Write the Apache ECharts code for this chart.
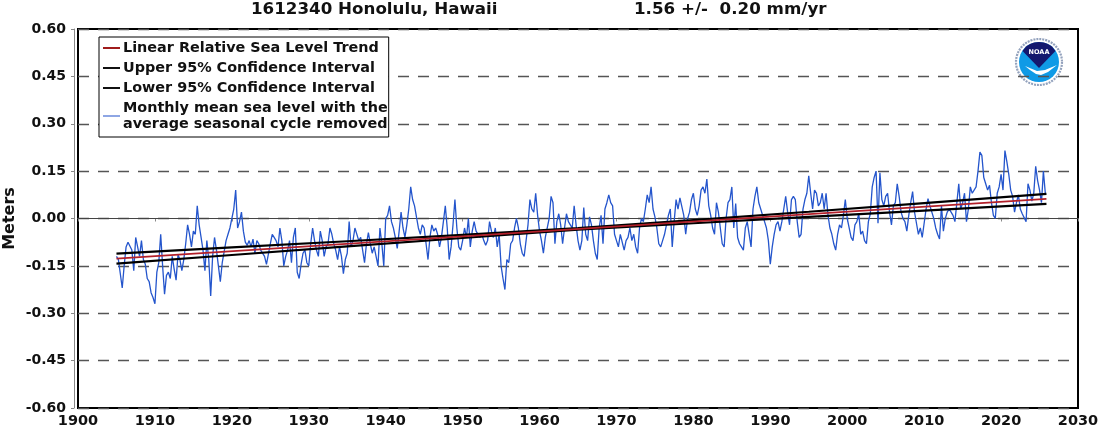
<!DOCTYPE html>
<html><head><meta charset="utf-8">
<style>html,body{margin:0;padding:0;background:#fff}#c{width:1100px;height:434px}</style>
<script src="https://cdn.jsdelivr.net/npm/echarts@6/dist/echarts.min.js"></script>
</head><body><div id="c"></div>
<script>
const titleStation = "1612340 Honolulu, Hawaii";
const titleRate = "1.56 +/-  0.20 mm/yr";
const yAxisName = "Meters";
const legendNames = ["Linear Relative Sea Level Trend","Upper 95% Confidence Interval","Lower 95% Confidence Interval","Monthly mean sea level with the\naverage seasonal cycle removed"];
const firstYear = 1905;
const samplesPerYear = 4;
// quarter-yearly readings, one array per ten years
const level1905 = [-.12,-.13,-.175,-.22,-.15,-.09,-.075,-.07,-.10,-.165,-.06,-.09,-.12,-.07,-.13,-.145,-.19,-.20,-.235,-.25,-.27,-.17,-.14,-.05,-.15,-.24,-.18,-.17,-.19,-.12,-.16,-.195,-.115,-.13,-.165,-.13,-.08,-.02,-.05,-.09];
const level1915 = [-.04,-.05,.04,-.02,-.06,-.10,-.165,-.07,-.13,-.245,-.12,-.06,-.10,-.15,-.20,-.14,-.135,-.07,-.05,-.03,0,.03,.09,-.03,-.01,.02,-.04,-.075,-.085,-.07,-.09,-.065,-.11,-.07,-.08,-.10,-.105,-.12,-.145,-.15];
const level1925 = [-.08,-.05,-.06,-.07,-.09,-.03,-.07,-.15,-.12,-.10,-.07,-.14,-.06,-.03,-.17,-.19,-.145,-.11,-.10,-.14,-.15,-.08,-.03,-.07,-.10,-.12,-.04,-.07,-.12,-.09,-.08,-.03,-.05,-.08,-.10,-.13,-.09,-.12,-.175,-.13];
const level1935 = [-.11,-.01,-.09,-.07,-.03,-.03,-.07,-.06,-.10,-.14,-.08,-.045,-.08,-.11,-.09,-.12,-.15,-.03,-.08,-.15,0,.01,.04,-.01,-.03,-.06,-.095,-.04,.02,-.03,-.06,-.02,.03,.10,.06,.04,.04,-.03,-.05,-.02];
const level1945 = [-.03,-.08,-.13,-.06,-.02,-.04,-.03,-.05,-.09,-.06,-.01,.04,-.03,-.13,-.09,-.02,.06,-.03,-.09,-.10,-.07,-.03,-.06,0,-.09,-.04,-.01,-.04,-.04,-.06,-.05,-.07,-.085,-.07,-.01,-.04,-.06,-.03,-.09,-.05];
const level1955 = [-.15,-.19,-.225,-.13,-.14,-.08,-.07,-.03,0,-.03,-.08,-.11,-.12,-.07,-.02,.06,.03,.02,.08,.01,-.04,-.07,-.11,-.06,-.03,0,.07,.05,-.08,-.01,.015,-.02,-.08,-.03,.015,-.01,-.02,-.03,.04,-.02];
const level1965 = [-.07,-.10,-.07,.035,-.05,-.07,.005,-.02,-.07,-.11,-.13,-.03,.01,-.08,.03,.05,.075,.05,.04,-.05,-.07,-.09,-.05,-.05,-.10,-.07,-.06,-.03,-.07,-.05,-.09,-.11,-.03,0,-.01,.03,.075,.05,.10,.03];
const level1975 = [.005,-.03,-.08,-.09,-.07,-.05,-.05,.01,.03,-.09,-.01,.06,.03,.065,.07,.01,-.05,0,.02,.06,.08,.03,.01,.04,.09,.10,.08,.125,.04,.01,-.03,-.05,.05,.02,-.03,-.08,-.09,0,.05,.06];
const level1985 = [.10,-.03,.047,-.06,-.08,-.09,-.10,-.03,-.01,-.05,-.09,.03,.07,.10,.05,.03,.03,-.01,-.03,-.07,-.145,-.09,-.05,-.02,-.01,-.04,-.01,.03,.07,.02,-.02,.06,.07,.06,-.01,-.06,-.05,.03,.06,.08];
const level1995 = [.135,.08,.03,.09,.08,.04,.05,.08,.03,.08,.01,-.03,-.05,-.08,-.10,-.05,-.02,-.03,.01,.06,0,-.03,-.06,-.07,-.02,-.01,.015,-.05,-.04,-.07,-.08,-.01,.015,.10,.13,.15,-.015,.145,.06,.04];
const level2005 = [.07,.08,.02,-.02,.04,.05,.11,.07,.02,0,-.01,-.04,.01,.05,.085,.02,-.015,-.05,-.03,-.06,-.065,.03,.063,.04,.02,0,-.03,-.05,-.065,.04,-.04,0,.02,.03,.02,.01,-.01,-.015,.11,.03];
const level2015 = [.05,.08,-.01,.03,.10,.08,.075,.10,.15,.21,.20,.13,.11,.09,.105,.05,.01,0,.08,.10,.14,.09,.215,.18,.14,.09,.07,.02,.05,.075,.03,.015,.02,-.01,.11,.09,.055,.08,.165,.12,.09,.05,.15,.08];
const levelReadings = [].concat(level1905,level1915,level1925,level1935,level1945,level1955,level1965,level1975,level1985,level1995,level2005,level2015);
const trendYears = [1905,2025.9];
const trendValues = [-.127,.062];
const ciYears = [1905,1920,1935,1950,1965,1980,1995,2010,2025.9];
const upperCI = [-.111,-.0916,-.072,-.0518,-.0305,-.005,.0214,.0488,.078];
const lowerCI = [-.143,-.1156,-.088,-.0618,-.0355,-.015,.0054,.0248,.046];
const zip = (a,b)=>a.map((v,i)=>[v,b[i]]);
const levelPoints = levelReadings.map((v,i)=>[firstYear+i/samplesPerYear,v]);
const F='"DejaVu Sans"';
const chart = echarts.init(document.getElementById('c'),null,{renderer:'canvas'});
chart.setOption({
 animation:false,backgroundColor:'#fff',
 title:[
  {text:titleStation,left:246,top:-4,textStyle:{fontFamily:F,fontWeight:'bold',fontSize:16.7,color:'#111'}},
  {text:titleRate,left:629,top:-4,textStyle:{fontFamily:F,fontWeight:'bold',fontSize:16.7,color:'#111'}}
 ],
 grid:{left:78,right:22,top:29,bottom:26,show:true,borderColor:'#000',borderWidth:2,backgroundColor:'#fff',outerBoundsMode:'none'},
 xAxis:{type:'value',min:1900,max:2030,interval:10,offset:3,
  axisLine:{show:true,lineStyle:{color:'#888',width:1}},axisTick:{show:true,length:3,lineStyle:{color:'#888'}},
  splitLine:{show:false},
  axisLabel:{fontFamily:F,fontWeight:'bold',fontSize:14.5,color:'#111',margin:3,formatter:v=>String(v),hideOverlap:false,showMinLabel:true,showMaxLabel:true}},
 yAxis:{type:'value',min:-.6,max:.6,interval:.15,offset:4,name:yAxisName,nameLocation:'middle',nameGap:56,nameMoveOverlap:false,
  nameTextStyle:{fontFamily:F,fontWeight:'bold',fontSize:16,color:'#111'},
  axisLine:{show:true,lineStyle:{color:'#888',width:1}},axisTick:{show:true,length:3,lineStyle:{color:'#888'}},
  axisLabel:{fontFamily:F,fontWeight:'bold',fontSize:14,color:'#111',margin:8,formatter:v=>v.toFixed(2)},
  splitLine:{show:true,lineStyle:{type:[11,9],color:'#555',width:1.4}}},
 legend:{left:99,top:37,orient:'vertical',padding:[3,1,5,4],itemGap:4,itemWidth:17,itemHeight:2,icon:'rect',
  borderColor:'#000',borderWidth:1,backgroundColor:'#fff',z:8,
  textStyle:{fontFamily:F,fontWeight:'bold',fontSize:14.4,color:'#111',lineHeight:16,padding:[0,0,0,-2]},
  data:[
   {name:legendNames[0],itemStyle:{color:'#a01c1c'}},
   {name:legendNames[1],itemStyle:{color:'#111'}},
   {name:legendNames[2],itemStyle:{color:'#111'}},
   {name:legendNames[3],itemStyle:{color:'#8ea6e4'}}]},
 series:[
  {type:'line',silent:true,symbol:'none',data:[[1900,0],[2030,0]],lineStyle:{color:'#444',width:1.2},z:1},
  {name:legendNames[3],type:'line',symbol:'none',data:levelPoints,lineStyle:{color:'#2455cc',width:1.3},itemStyle:{color:'#8ea6e4'},z:2},
  {name:legendNames[1],type:'line',symbol:'none',data:zip(ciYears,upperCI),lineStyle:{color:'#000',width:2.2},itemStyle:{color:'#111'},z:3},
  {name:legendNames[2],type:'line',symbol:'none',data:zip(ciYears,lowerCI),lineStyle:{color:'#000',width:2.2},itemStyle:{color:'#111'},z:3},
  {name:legendNames[0],type:'line',symbol:'none',data:zip(trendYears,trendValues),lineStyle:{color:'#b3202a',width:1.8},itemStyle:{color:'#a01c1c'},z:4}
 ],
 graphic:[{type:'group',x:1015,y:38,z:20,children:[
  {type:'circle',shape:{cx:24,cy:24,r:24.5},style:{fill:'#fff'}},
  {type:'circle',shape:{cx:24,cy:24,r:23},style:{fill:'none',stroke:'#93a2bd',lineWidth:2.2,lineDash:[2,1]}},
  {type:'circle',shape:{cx:24,cy:24,r:20},style:{fill:'#0f9ae6'}},
  {type:'polygon',shape:{points:[[7.5,13],[11,8.5],[15,6],[19,4.6],[24,4],[29,4.6],[33,6],[37,8.5],[40.5,13],[24,30]]},style:{fill:'#14186e'}},
  {type:'polygon',shape:{points:[[10,28],[16,30.5],[22,33],[30,32],[42,27],[33,34],[26,37],[21,36],[15,32]]},style:{fill:'#fff'}},
  {type:'text',style:{x:24,y:14,text:'NOAA',fill:'#fff',font:'bold 6.5px "DejaVu Sans"',align:'center',verticalAlign:'middle'}}
 ]}]
});
</script></body></html>
